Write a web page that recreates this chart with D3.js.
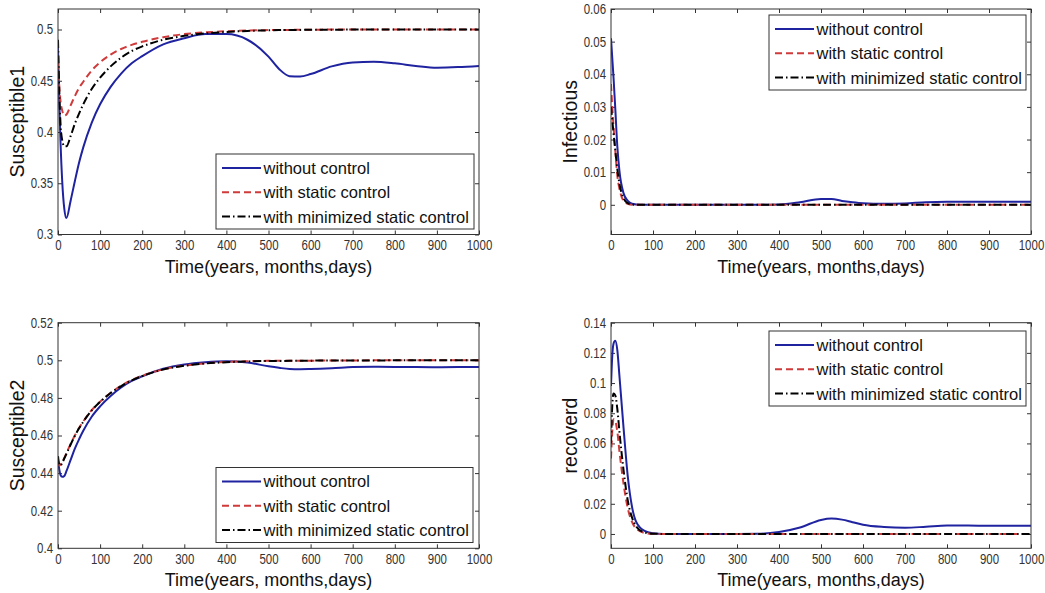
<!doctype html>
<html>
<head>
<title>Susceptible / Infectious / recoverd</title>
<style>
body { margin:0; background:#fff; }
svg { display:block; }
.tick text { font-family:"Liberation Sans",Arial,sans-serif; font-size:14px; fill:#333; }
.axlab { font-family:"Liberation Sans",Arial,sans-serif; font-size:18px; fill:#111; }
.ylab { font-size:19.5px; }
.legtext { font-family:"Liberation Sans",Arial,sans-serif; font-size:16.5px; fill:#111; }
</style>
</head>
<body>
<svg width="1045" height="593" id="chart"></svg>
<script src="https://d3js.org/d3.v7.min.js"></script>
<script>
// ---- data ----
var timeDays = [0,3,6,10,15,20,30,40,50,60,80,100,125,150,175,200,250,300,350,400,450,500,525,550,575,600,650,700,750,800,850,900,950,1000];
var timeTicks = [0,100,200,300,400,500,600,700,800,900,1000];
var seriesNames = ["without control", "with static control", "with minimized static control"];

// Susceptible1
var s1None   = [0.482,0.43,0.39,0.352,0.325,0.316,0.333,0.352,0.370,0.385,0.409,0.427,0.444,0.457,0.467,0.474,0.4855,0.4915,0.4955,0.4955,0.490,0.4735,0.4615,0.4545,0.4542,0.4565,0.464,0.4678,0.4685,0.467,0.4645,0.4628,0.4633,0.4645];
var s1Static = [0.468,0.445,0.430,0.421,0.416,0.417,0.426,0.435,0.443,0.449,0.460,0.468,0.4755,0.481,0.485,0.488,0.4925,0.4955,0.4972,0.4983,0.499,0.4994,0.4995,0.4996,0.4997,0.4998,0.4999,0.4999,0.5,0.5,0.5,0.5,0.5,0.5];
var s1Min    = [0.49,0.44,0.408,0.392,0.386,0.386,0.396,0.408,0.418,0.427,0.442,0.453,0.464,0.4725,0.479,0.4835,0.490,0.4938,0.4962,0.4976,0.4986,0.4992,0.4994,0.4995,0.4996,0.4997,0.4998,0.4999,0.4999,0.5,0.5,0.5,0.5,0.5];
var s1Ticks  = [0.3,0.35,0.4,0.45,0.5];

// Susceptible2
var s2None   = [0.447,0.442,0.439,0.438,0.4385,0.441,0.447,0.453,0.458,0.4625,0.470,0.4755,0.481,0.4855,0.489,0.4915,0.4955,0.4978,0.499,0.4995,0.4988,0.4968,0.4960,0.4954,0.4953,0.4954,0.4958,0.4964,0.4966,0.4965,0.4964,0.4963,0.4964,0.4965];
var s2Static = [0.446,0.444,0.4445,0.446,0.448,0.4505,0.4555,0.460,0.464,0.4675,0.4735,0.478,0.4827,0.4865,0.4895,0.4918,0.4952,0.4972,0.4984,0.4991,0.4995,0.4997,0.4997,0.4998,0.4998,0.4998,0.4999,0.4999,0.5,0.5,0.5,0.5,0.5,0.5];
var s2Min    = [0.449,0.4445,0.444,0.4455,0.4478,0.4502,0.4552,0.4598,0.4638,0.4673,0.4733,0.4779,0.4826,0.4863,0.4893,0.4916,0.4951,0.4971,0.4983,0.499,0.4994,0.4996,0.4996,0.4997,0.4997,0.4998,0.4999,0.4999,0.4999,0.5,0.5,0.5,0.5,0.5];
var s2Ticks  = [0.4,0.42,0.44,0.46,0.48,0.5,0.52];

// Infectious
var iNone    = [0.051,0.045,0.039,0.030,0.018,0.0105,0.0035,0.0012,0.0003,0.0001,0,0,0,0,0,0,0,0,0,0.0001,0.0008,0.0018,0.0018,0.0012,0.0008,0.0005,0.0003,0.0004,0.0008,0.0009,0.0009,0.0009,0.0009,0.0009];
var iStatic  = [0.037,0.030,0.024,0.017,0.009,0.005,0.0012,0.0003,0,0,0,0,0,0,0,0,0,0,0,0,0,0,0,0,0,0,0,0,0,0,0,0,0,0];
var iMin     = [0.030,0.026,0.022,0.017,0.011,0.0065,0.002,0.0005,0.0001,0,0,0,0,0,0,0,0,0,0,0,0,0,0,0,0,0,0,0,0,0,0,0,0,0];
var iTicks   = [0,0.01,0.02,0.03,0.04,0.05,0.06];

// recoverd
var rNone    = [0.098,0.118,0.126,0.128,0.122,0.105,0.070,0.038,0.018,0.008,0.002,0.0005,0,0,0,0,0,0,0.0001,0.0013,0.0043,0.0093,0.0102,0.0095,0.0078,0.0061,0.0046,0.0041,0.0048,0.0056,0.0056,0.0054,0.0054,0.0054];
var rStatic  = [0.050,0.068,0.076,0.075,0.068,0.055,0.033,0.017,0.008,0.0035,0.0007,0.0001,0,0,0,0,0,0,0,0,0,0,0,0,0,0,0,0,0,0,0,0,0,0];
var rMin     = [0.060,0.085,0.093,0.092,0.083,0.068,0.042,0.022,0.011,0.005,0.001,0.0002,0,0,0,0,0,0,0,0,0,0,0,0,0,0,0,0,0,0,0,0,0,0];
var rTicks   = [0,0.02,0.04,0.06,0.08,0.1,0.12,0.14];

// ---- styles ----
var lineColors = ["#1f239f", "#cf3b3b", "#000000"];
var lineDashes = [null, "7,4", "8,3,1.5,3"];

var svg = d3.select("#chart");

function drawPanel(p) {
  var x = d3.scaleLinear().domain([0, 1000]).range([p.left, p.right]);
  var y = d3.scaleLinear().domain(p.yDomain).range([p.bottom, p.top]);
  var g = svg.append("g");

  svg.append("clipPath").attr("id", "clip" + p.id)
    .append("rect").attr("x", p.left).attr("y", p.top)
    .attr("width", p.right - p.left).attr("height", p.bottom - p.top);

  // axes, ticks pointing inward on all four sides
  var ax = [
    g.append("g").attr("transform", "translate(0," + p.bottom + ")")
      .call(d3.axisBottom(x).tickValues(timeTicks).tickSizeInner(-4).tickSizeOuter(0).tickPadding(6).tickFormat(d3.format("d"))),
    g.append("g").attr("transform", "translate(0," + p.top + ")")
      .call(d3.axisTop(x).tickValues(timeTicks).tickSizeInner(-4).tickSizeOuter(0).tickFormat("")),
    g.append("g").attr("transform", "translate(" + p.left + ",0)")
      .call(d3.axisLeft(y).tickValues(p.yTicks).tickSizeInner(-4).tickSizeOuter(0).tickPadding(6).tickFormat(function(d){ return String(d); })),
    g.append("g").attr("transform", "translate(" + p.right + ",0)")
      .call(d3.axisRight(y).tickValues(p.yTicks).tickSizeInner(-4).tickSizeOuter(0).tickFormat(""))
  ];
  ax.forEach(function(a){
    a.select(".domain").remove();
    a.selectAll(".tick line").attr("stroke", "#333");
    // MATLAB's tick font is narrow
    a.selectAll(".tick text").attr("transform", "scale(0.82,1)");
  });

  var line = d3.line()
    .x(function(d, i){ return x(timeDays[i]); })
    .y(function(d){ return y(d); })
    .curve(d3.curveMonotoneX);

  var lines = g.append("g").attr("clip-path", "url(#clip" + p.id + ")");
  p.series.forEach(function(s, k){
    lines.append("path").datum(s)
      .attr("fill", "none")
      .attr("stroke", lineColors[k])
      .attr("stroke-width", 2)
      .attr("stroke-dasharray", lineDashes[k])
      .attr("d", line);
  });

  g.append("rect").attr("x", p.left).attr("y", p.top)
    .attr("width", p.right - p.left).attr("height", p.bottom - p.top)
    .attr("fill", "none").attr("stroke", "#333").attr("stroke-width", 1);

  // legend
  var lg = g.append("g").attr("transform", "translate(" + p.leg[0] + "," + p.leg[1] + ")");
  lg.append("rect").attr("width", p.leg[2]).attr("height", 75)
    .attr("fill", "#fff").attr("stroke", "#333").attr("stroke-width", 1);
  seriesNames.forEach(function(name, k){
    var yy = 14 + k * 24.3;
    lg.append("line").attr("x1", 6).attr("x2", 45).attr("y1", yy).attr("y2", yy)
      .attr("stroke", lineColors[k]).attr("stroke-width", 2)
      .attr("stroke-dasharray", lineDashes[k]);
    lg.append("text").attr("class", "legtext").attr("x", 47.5).attr("y", yy).attr("dy", "0.36em").text(name);
  });

  // labels
  g.append("text").attr("class", "axlab").attr("text-anchor", "middle")
    .attr("x", (p.left + p.right) / 2).attr("y", p.bottom + 38)
    .text("Time(years, months,days)");
  g.append("text").attr("class", "axlab ylab").attr("text-anchor", "middle")
    .attr("transform", "translate(" + (p.left - 41) + "," + ((p.top + p.bottom) / 2) + ") rotate(-90)")
    .attr("dy", "0.35em")
    .text(p.yLabel);
}

drawPanel({ id: 1, left: 58, right: 479, top: 9, bottom: 234.5, yDomain: [0.3, 0.52], yTicks: s1Ticks,
  yLabel: "Susceptible1", series: [s1None, s1Static, s1Min], leg: [216, 154, 258] });
drawPanel({ id: 2, left: 58, right: 479, top: 322.7, bottom: 548.3, yDomain: [0.4, 0.52], yTicks: s2Ticks,
  yLabel: "Susceptible2", series: [s2None, s2Static, s2Min], leg: [216, 467.5, 257] });
drawPanel({ id: 3, left: 611, right: 1031, top: 9, bottom: 234.5, yDomain: [-0.0091, 0.06], yTicks: iTicks,
  yLabel: "Infectious", series: [iNone, iStatic, iMin], leg: [769, 15, 257] });
drawPanel({ id: 4, left: 611, right: 1031, top: 322.7, bottom: 548.3, yDomain: [-0.0095, 0.14], yTicks: rTicks,
  yLabel: "recoverd", series: [rNone, rStatic, rMin], leg: [769, 331, 257] });
</script>
</body>
</html>
